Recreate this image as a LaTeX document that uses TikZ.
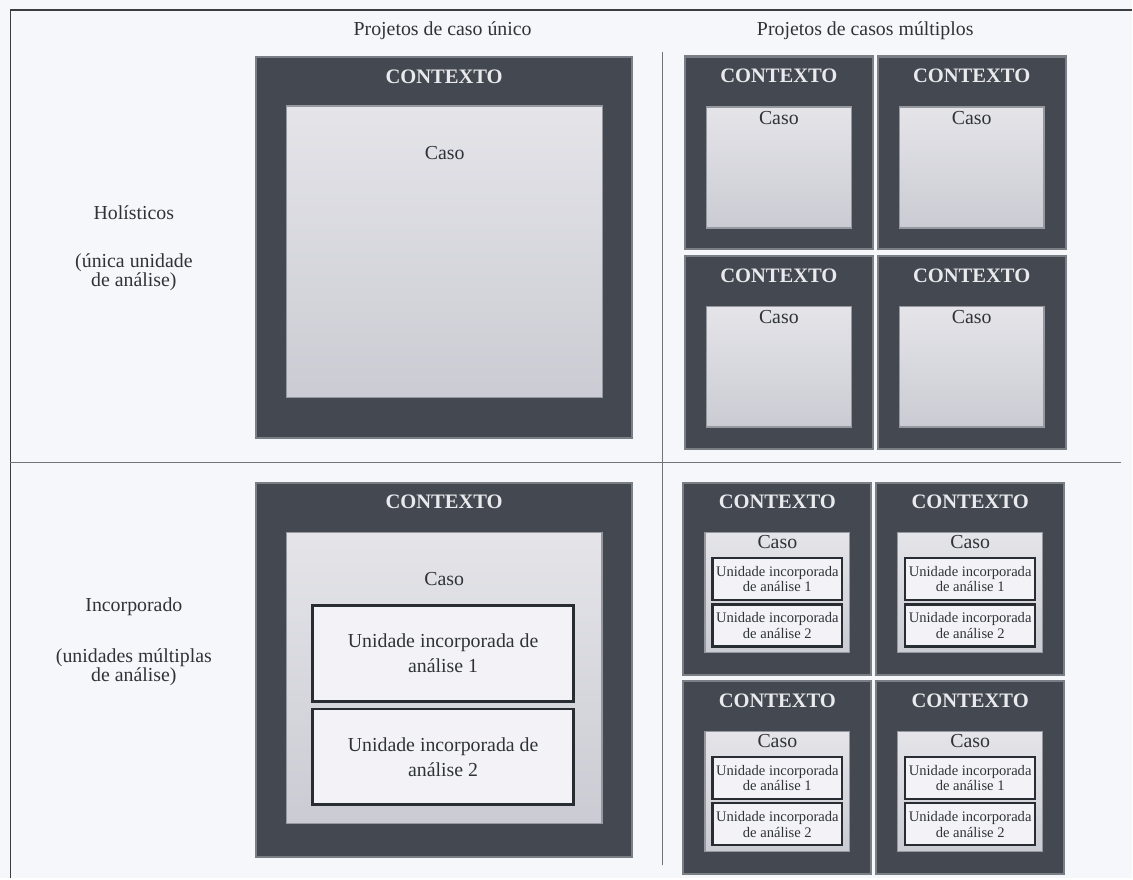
\documentclass[tikz,border=0pt]{standalone}
\usepackage{fontspec}
\setmainfont{Liberation Serif}
\usetikzlibrary{positioning}
\definecolor{paper}{RGB}{246,247,251}
\definecolor{frameline}{RGB}{58,61,66}
\definecolor{divline}{RGB}{112,115,120}
\definecolor{ctxfill}{RGB}{68,73,81}
\definecolor{ctxrim}{RGB}{122,126,133}
\definecolor{casotop}{RGB}{228,228,233}
\definecolor{casobot}{RGB}{203,204,211}
\definecolor{casorim}{RGB}{150,152,160}
\definecolor{unidfill}{RGB}{243,243,247}
\definecolor{unidrim}{RGB}{40,45,51}
\definecolor{txt}{RGB}{47,51,56}
\definecolor{ctxtxt}{RGB}{233,234,238}
\begin{document}
\begin{tikzpicture}[x=0.02cm, y=-0.02cm, font=\fontsize{11.3}{13}\selectfont, text=txt,
	ctx/.style={fill=ctxfill, draw=ctxrim, line width=1.2pt, inner sep=0},
	ctxbig/.style={ctx, minimum width=7.54cm, minimum height=#1},
	ctxsmall/.style={ctx, minimum width=3.76cm, minimum height=3.86cm},
	caso/.style={top color=casotop, bottom color=casobot, draw=casorim, line width=0.8pt, inner sep=0},
	casobig/.style={caso, minimum width=6.32cm, minimum height=#1},
	casosmall/.style={caso, minimum width=2.9cm, minimum height=#1},
	unid/.style={fill=unidfill, draw=unidrim, line width=1.6pt, inner sep=0, align=center},
	unidbig/.style={unid, minimum width=5.22cm, minimum height=1.92cm, font=\fontsize{11.3}{14.2}\selectfont},
	unidsmall/.style={unid, minimum width=2.6cm, minimum height=0.84cm, line width=1.3pt, font=\fontsize{8.3}{8.8}\selectfont},
	ctxlabel/.style={text=ctxtxt, inner sep=0, font=\fontsize{11.7}{13}\selectfont\bfseries},
	lbl/.style={inner sep=0, align=center},
	sublbl/.style={lbl, font=\fontsize{11.3}{10.8}\selectfont}]
	%frame
	\fill[paper] (0,0) rectangle (1133,879);
	\coordinate (tl) at (10.5,10);
	\coordinate (bl) at (10.5,879);
	\coordinate (tr) at (1133,10);
	\draw[frameline, line width=1.1pt] (bl) -- (tl) -- (tr);
	%dividers
	\draw[divline, line width=0.5pt] (10.5,463) -- (1122,463);
	\draw[divline, line width=0.5pt] (663,52) -- (663,866);
	%headers
	\node[lbl] (hdunico) at (443,31) {Projetos de caso único};
	\node[lbl] (hdmult) at (866,31) {Projetos de casos múltiplos};
	%row labels
	\node[lbl] (holist) at (134,213) {Holísticos};
	\node[sublbl] (holistsub) at (134,272) {(única unidade\\de análise)};
	\node[lbl] (incorp) at (134,607) {Incorporado};
	\node[sublbl] (incorpsub) at (134,668) {(unidades múltiplas\\de análise)};
	%single case, holistic
	\node[ctxbig=7.62cm] (ctxU) at (444.5,247.5) {};
	\node[ctxlabel, below=7.6pt of ctxU.north] (ctxUt) {CONTEXTO};
	\node[casobig=5.84cm] (casoU) at (445,252) {};
	\node[lbl, below=23pt of casoU.north] (casoUt) {Caso};
	%single case, embedded
	\node[ctxbig=7.5cm] (ctxI) at (444.5,670.5) {};
	\node[ctxlabel, below=7.6pt of ctxI.north] (ctxIt) {CONTEXTO};
	\node[casobig=5.82cm] (casoI) at (444.5,678.5) {};
	\node[lbl, below=23pt of casoI.north] (casoIt) {Caso};
	\node[unidbig] (unidI1) at (443.5,654) {Unidade incorporada de\\análise 1};
	\node[unidbig] (unidI2) at (443.5,757.5) {Unidade incorporada de\\análise 2};
	%multiple cases, holistic
	\foreach \x/\y/\n in {779.5/153/1, 972.5/153/2, 779.5/352.5/3, 972.5/352.5/4}{
		\node[ctxsmall] (ctxH\n) at (\x,\y) {};
		\node[ctxlabel, below=7.6pt of ctxH\n.north] (ctxHt\n) {CONTEXTO};
		\node[casosmall=2.42cm] (casoH\n) at (\x,\y+14.5) {};
		\node[lbl, below=2.5pt of casoH\n.north] (casoHt\n) {Caso};
	}
	%multiple cases, embedded
	\foreach \x/\y/\n in {778/579.5/1, 971/579.5/2, 778/778.5/3, 971/778.5/4}{
		\node[ctxsmall] (ctxM\n) at (\x,\y) {};
		\node[ctxlabel, below=7.6pt of ctxM\n.north] (ctxMt\n) {CONTEXTO};
		\node[casosmall=2.4cm] (casoM\n) at (\x,\y+13.5) {};
		\node[lbl, below=1.8pt of casoM\n.north] (casoMt\n) {Caso};
		\node[unidsmall] (unidMa\n) at (\x,\y) {Unidade incorporada\\de análise 1};
		\node[unidsmall] (unidMb\n) at (\x,\y+46.5) {Unidade incorporada\\de análise 2};
	}
\end{tikzpicture}
\end{document}
